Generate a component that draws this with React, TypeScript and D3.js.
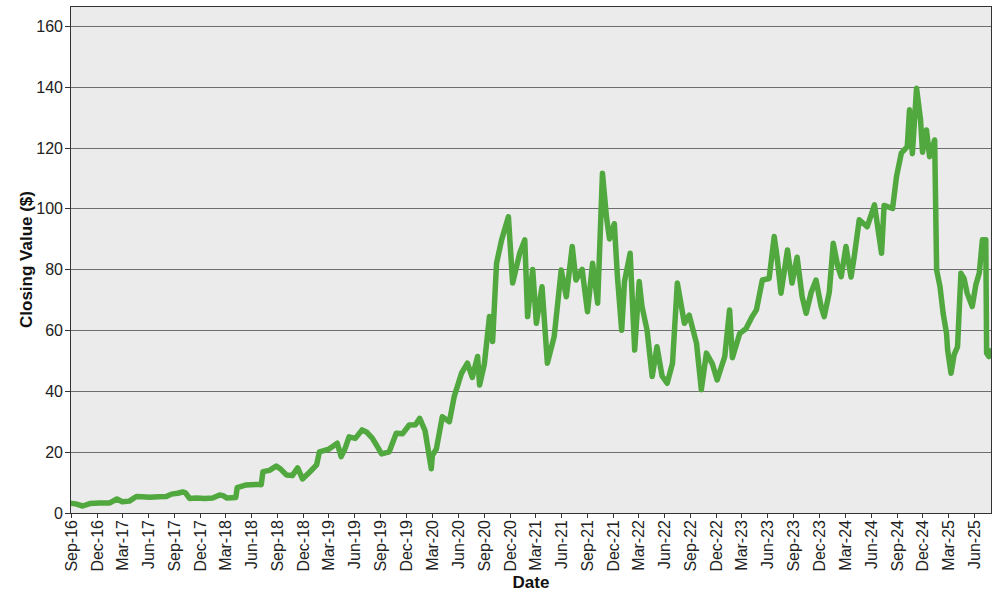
import * as d3 from 'd3';
import React from 'react';

// closing values, roughly every 2-3 weeks plus the spikes
const closing: [string, number][] = [
  ['2016-08-29', 3.2], ['2016-09-17', 3.0], ['2016-10-12', 2.3], ['2016-11-06', 3.1],
  ['2016-12-11', 3.3], ['2017-01-16', 3.3], ['2017-02-10', 4.6], ['2017-03-01', 3.7],
  ['2017-03-26', 3.9], ['2017-04-20', 5.4], ['2017-05-11', 5.3], ['2017-06-05', 5.2],
  ['2017-07-09', 5.3], ['2017-08-04', 5.4], ['2017-08-22', 6.2], ['2017-09-13', 6.5],
  ['2017-10-01', 6.9], ['2017-10-11', 6.6], ['2017-10-25', 4.8], ['2017-11-19', 4.9],
  ['2017-12-17', 4.8], ['2018-01-15', 4.9], ['2018-02-09', 5.9], ['2018-02-21', 5.7],
  ['2018-03-07', 4.9], ['2018-04-07', 5.1], ['2018-04-12', 8.3], ['2018-05-14', 9.2],
  ['2018-06-22', 9.4], ['2018-07-06', 9.3], ['2018-07-12', 13.6], ['2018-08-04', 14.0],
  ['2018-08-28', 15.4], ['2018-09-12', 14.5], ['2018-10-03', 12.5], ['2018-10-24', 12.3],
  ['2018-11-12', 14.8], ['2018-11-29', 11.2], ['2018-12-23', 13.3], ['2019-01-18', 15.8],
  ['2019-01-28', 20.1], ['2019-03-03', 21.0], ['2019-04-01', 22.9], ['2019-04-15', 18.5],
  ['2019-04-28', 21.0], ['2019-05-13', 25.0], ['2019-06-04', 24.5], ['2019-06-28', 27.3],
  ['2019-07-15', 26.5], ['2019-08-03', 24.6], ['2019-08-20', 22.0], ['2019-09-05', 19.4],
  ['2019-10-02', 20.1], ['2019-10-27', 26.2], ['2019-11-18', 26.0], ['2019-12-12', 28.9],
  ['2020-01-03', 29.0], ['2020-01-18', 31.1], ['2020-02-06', 27.0], ['2020-02-28', 14.5],
  ['2020-03-03', 19.0], ['2020-03-17', 21.0], ['2020-04-07', 31.6], ['2020-05-02', 30.0],
  ['2020-05-19', 38.2], ['2020-06-14', 45.9], ['2020-07-05', 49.2], ['2020-07-22', 44.5],
  ['2020-08-10', 51.4], ['2020-08-17', 42.0], ['2020-09-03', 49.0], ['2020-09-21', 64.5],
  ['2020-10-02', 56.3], ['2020-10-16', 82.0], ['2020-11-03', 89.7], ['2020-11-27', 97.3],
  ['2020-12-12', 75.5], ['2021-01-06', 85.3], ['2021-01-24', 89.7], ['2021-02-03', 64.5],
  ['2021-02-21', 80.0], ['2021-03-06', 62.3], ['2021-03-26', 74.3], ['2021-04-14', 49.2],
  ['2021-05-08', 57.9], ['2021-06-02', 79.8], ['2021-06-20', 71.0], ['2021-07-11', 87.5],
  ['2021-07-24', 76.5], ['2021-08-15', 80.0], ['2021-09-03', 66.1], ['2021-09-21', 82.0],
  ['2021-10-09', 68.9], ['2021-10-26', 111.6], ['2021-11-09', 97.3], ['2021-11-20', 90.0],
  ['2021-12-07', 95.0], ['2021-12-18', 77.6], ['2022-01-02', 60.0], ['2022-01-12', 76.0],
  ['2022-02-01', 85.3], ['2022-02-17', 53.5], ['2022-03-05', 76.0], ['2022-03-15', 67.8],
  ['2022-04-02', 60.0], ['2022-04-20', 44.8], ['2022-05-07', 54.6], ['2022-05-25', 45.0],
  ['2022-06-12', 42.6], ['2022-07-01', 49.2], ['2022-07-18', 75.5], ['2022-08-12', 62.3],
  ['2022-08-29', 65.0], ['2022-09-24', 55.7], ['2022-10-11', 40.5], ['2022-10-29', 52.5],
  ['2022-11-19', 49.0], ['2022-12-06', 43.7], ['2023-01-02', 51.4], ['2023-01-19', 66.7],
  ['2023-01-29', 51.0], ['2023-02-24', 59.0], ['2023-03-18', 60.5], ['2023-04-09', 64.5],
  ['2023-04-24', 66.7], ['2023-05-15', 76.5], ['2023-06-08', 77.0], ['2023-06-26', 90.8],
  ['2023-07-06', 84.2], ['2023-07-20', 72.2], ['2023-08-12', 86.4], ['2023-08-28', 75.5],
  ['2023-09-15', 84.0], ['2023-10-03', 71.0], ['2023-10-17', 65.6], ['2023-11-04', 72.5],
  ['2023-11-21', 76.5], ['2023-12-09', 67.8], ['2023-12-20', 64.5], ['2024-01-07', 72.5],
  ['2024-01-21', 88.6], ['2024-02-06', 81.0], ['2024-02-18', 77.6], ['2024-03-06', 87.5],
  ['2024-03-24', 77.5], ['2024-04-04', 84.0], ['2024-04-22', 96.3], ['2024-05-20', 94.0],
  ['2024-06-15', 101.2], ['2024-07-10', 85.3], ['2024-07-19', 101.0], ['2024-08-18', 100.0],
  ['2024-09-01', 110.5], ['2024-09-18', 118.2], ['2024-10-09', 120.3], ['2024-10-17', 132.4],
  ['2024-10-27', 118.0], ['2024-11-11', 139.5], ['2024-11-25', 129.1], ['2024-12-02', 118.5],
  ['2024-12-16', 125.8], ['2024-12-27', 117.0], ['2025-01-14', 122.5], ['2025-01-21', 79.8],
  ['2025-02-02', 74.3], ['2025-02-13', 65.6], ['2025-02-25', 59.0], ['2025-03-01', 53.5],
  ['2025-03-13', 45.9], ['2025-03-24', 52.0], ['2025-04-05', 54.6], ['2025-04-17', 78.7],
  ['2025-04-28', 77.0], ['2025-05-09', 72.2], ['2025-05-27', 67.8], ['2025-06-09', 75.0],
  ['2025-06-21', 78.8], ['2025-07-02', 89.7], ['2025-07-14', 89.7], ['2025-07-17', 52.5],
  ['2025-07-25', 51.4], ['2025-08-04', 54.0],
];

const yTicks = [0, 20, 40, 60, 80, 100, 120, 140, 160];
const yMax = 166.5;
const dateStart = '2016-08-28';
const dateEnd = '2025-08-05';

const W = 1000;
const H = 600;
const margin = { top: 6, right: 8, bottom: 87, left: 70 };
const font = 'Arial, "Liberation Sans", sans-serif';

export default function App() {
  const parse = d3.timeParse('%Y-%m-%d');
  const data = closing.map(([d, v]) => ({ date: parse(d) as Date, value: v }));
  const t0 = parse(dateStart) as Date;
  const t1 = parse(dateEnd) as Date;

  const x = d3.scaleTime().domain([t0, t1]).range([margin.left, W - margin.right]);
  const y = d3.scaleLinear().domain([0, yMax]).range([H - margin.bottom, margin.top]);

  // quarterly ticks on Mar / Jun / Sep / Dec
  const xTicks = d3.timeMonth.range(t0, t1).filter((d) => d.getMonth() % 3 === 2);
  const fmt = d3.timeFormat('%b-%y');

  const line = d3
    .line<{ date: Date; value: number }>()
    .x((d) => x(d.date))
    .y((d) => y(d.value));

  const left = margin.left;
  const right = W - margin.right;
  const top = margin.top;
  const bottom = H - margin.bottom;

  return (
    <svg width={W} height={H} style={{ position: 'absolute', left: 0, top: 0 }}>
      <defs>
        <clipPath id='plot-clip'>
          <rect x={left} y={top} width={right - left} height={bottom - top} />
        </clipPath>
      </defs>
      <rect x={0} y={0} width={W} height={H} fill='white' />
      <rect x={left} y={top} width={right - left} height={bottom - top} fill='#ebebeb' />

      {yTicks.slice(1).map((t) => (
        <line
          key={t}
          x1={left}
          x2={right}
          y1={Math.round(y(t)) + 0.5}
          y2={Math.round(y(t)) + 0.5}
          stroke='#6e6e6e'
          strokeWidth={1}
        />
      ))}

      <path
        d={line(data) || ''}
        fill='none'
        stroke='#50a83e'
        strokeWidth={5.5}
        strokeLinejoin='round'
        clipPath='url(#plot-clip)'
      />

      <rect
        x={left + 0.5}
        y={top + 0.5}
        width={right - left - 1}
        height={bottom - top}
        fill='none'
        stroke='#333'
        strokeWidth={1}
      />

      <g fontFamily={font} fontSize={16} fill='#222'>
        {yTicks.map((t) => (
          <g key={t} transform={`translate(0,${Math.round(y(t)) + 0.5})`}>
            <line x1={left - 5} x2={left} stroke='#333' />
            <text x={left - 7} dy='0.35em' textAnchor='end'>
              {t}
            </text>
          </g>
        ))}
        {xTicks.map((d) => (
          <g key={d.getTime()} transform={`translate(${Math.round(x(d)) + 0.5},${bottom})`}>
            <line y1={0} y2={5} stroke='#333' />
            <text transform='rotate(-90)' x={-7} dy='0.35em' textAnchor='end'>
              {fmt(d)}
            </text>
          </g>
        ))}
      </g>

      <text
        x={(left + right) / 2}
        y={588}
        textAnchor='middle'
        fontFamily={font}
        fontSize={17}
        fontWeight='bold'
        fill='#111'
      >
        Date
      </text>
      <text
        transform={`translate(26,${(top + bottom) / 2}) rotate(-90)`}
        textAnchor='middle'
        dy='0.35em'
        fontFamily={font}
        fontSize={17}
        fontWeight='bold'
        fill='#111'
      >
        Closing Value ($)
      </text>
    </svg>
  );
}
